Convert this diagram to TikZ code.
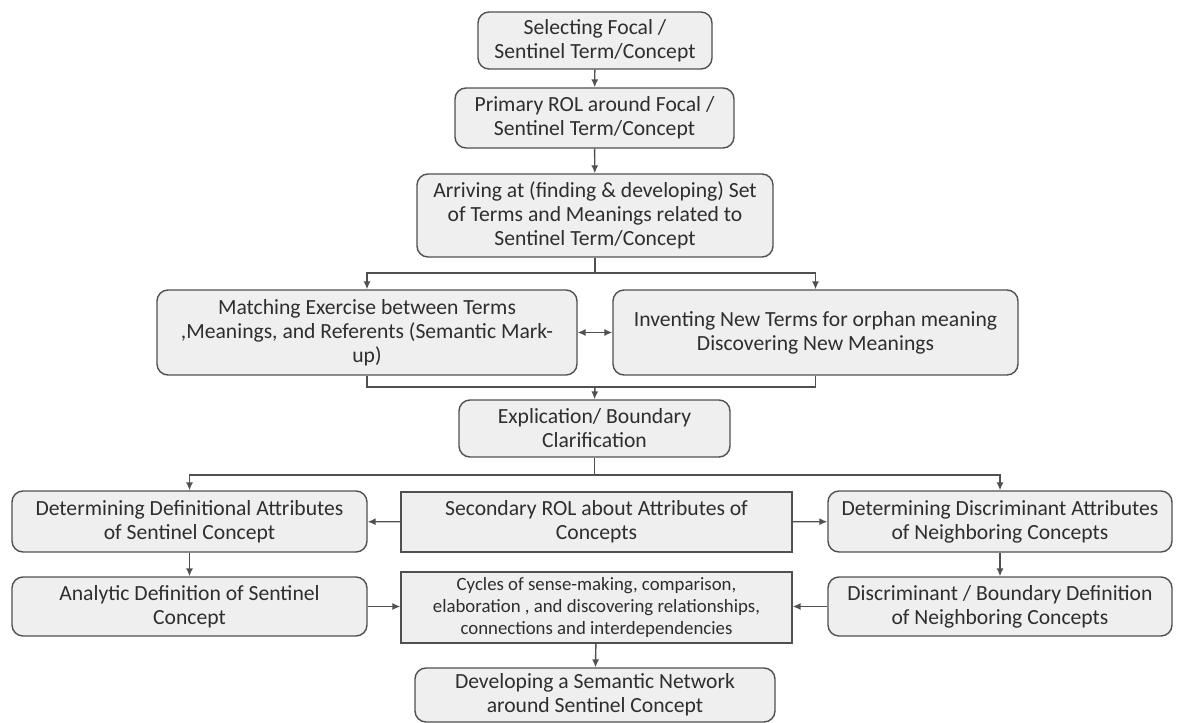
\documentclass[tikz,border=0pt]{standalone}
\usepackage{fontspec}
\setmainfont{Carlito}
\usetikzlibrary{arrows.meta}
\definecolor{boxfill}{HTML}{EFEFEF}
\definecolor{boxline}{HTML}{505050}
\definecolor{boxtext}{HTML}{2E2E2E}
\tikzset{
    roundbox/.style={
        draw=boxline,
        line width=0.8pt,
        fill=boxfill,
        rounded corners=0.22cm,
        align=center,
        inner sep=0,
        text=boxtext,
        font=\fontsize{12.3}{13.7}\selectfont,
    },
    squarebox/.style={
        roundbox,
        rounded corners=0,
    },
    link/.style={
        draw=boxline,
        line width=0.8pt,
        -{Latex[length=4.5pt,width=4pt]},
    },
}

\begin{document}
\begin{tikzpicture}
            \useasboundingbox (0,0) rectangle (23.54,-14.46);

            \node[roundbox, minimum width=4.68cm, minimum height=1.14cm] at (11.9, -0.81) (select) {Selecting Focal /\\Sentinel Term/Concept} ;
            \node[roundbox, minimum width=5.58cm, minimum height=1.2cm] at (11.89, -2.36) (primary) {Primary ROL around Focal /\\Sentinel Term/Concept} ;
            \node[roundbox, minimum width=7.12cm, minimum height=1.66cm] at (11.9, -4.31) (arriving) {Arriving at (finding \& developing) Set\\of Terms and Meanings related to\\Sentinel Term/Concept} ;
            \node[roundbox, minimum width=8.4cm, minimum height=1.7cm] at (7.34, -6.65) (matching) {Matching Exercise between Terms\\,Meanings, and Referents (Semantic Mark-\\up)} ;
            \node[roundbox, minimum width=8.1cm, minimum height=1.7cm] at (16.31, -6.65) (inventing) {Inventing New Terms for orphan meaning\\Discovering New Meanings} ;
            \node[roundbox, minimum width=5.42cm, minimum height=1.14cm] at (11.89, -8.57) (explication) {Explication/ Boundary\\Clarification} ;
            \node[roundbox, minimum width=7.1cm, minimum height=1.22cm] at (3.79, -10.43) (defattr) {Determining Definitional Attributes\\of Sentinel Concept} ;
            \node[squarebox, minimum width=7.82cm, minimum height=1.2cm] at (11.93, -10.44) (secondary) {Secondary ROL about Attributes of\\Concepts} ;
            \node[roundbox, minimum width=6.88cm, minimum height=1.22cm] at (20.0, -10.43) (discattr) {Determining Discriminant Attributes\\of Neighboring Concepts} ;
            \node[roundbox, minimum width=7.1cm, minimum height=1.18cm] at (3.79, -12.13) (analytic) {Analytic Definition of Sentinel\\Concept} ;
            \node[squarebox, minimum width=7.82cm, minimum height=1.42cm, font=\fontsize{10.7}{12.4}\selectfont] at (11.93, -12.15) (cycles) {Cycles of sense-making, comparison,\\elaboration , and discovering relationships,\\connections and interdependencies} ;
            \node[roundbox, minimum width=6.88cm, minimum height=1.18cm] at (20.0, -12.13) (discdef) {Discriminant / Boundary Definition\\of Neighboring Concepts} ;
            \node[roundbox, minimum width=7.2cm, minimum height=1.08cm] at (11.9, -13.9) (network) {Developing a Semantic Network\\around Sentinel Concept} ;

            \coordinate (split) at (11.9, -5.46) ;
            \coordinate (merge) at (11.9, -7.74) ;
            \coordinate (fork) at (11.89, -9.5) ;

            \draw[link] (select) -- (primary) ;
            \draw[link] (primary) -- (arriving) ;
            \draw[boxline, line width=0.8pt] (arriving.south) -- (split) ;
            \draw[link] (split) -| (matching.north) ;
            \draw[link] (split) -| (inventing.north) ;
            \draw[link, {Latex[length=4.5pt,width=4pt]}-{Latex[length=4.5pt,width=4pt]}] (matching.east) -- (inventing.west) ;
            \draw[boxline, line width=0.8pt] (matching.south) |- (merge) ;
            \draw[boxline, line width=0.8pt] (inventing.south) |- (merge) ;
            \draw[link] (merge) -- (explication.north) ;
            \draw[boxline, line width=0.8pt] (explication.south) -- (fork) ;
            \draw[link] (fork) -| (defattr.north) ;
            \draw[link] (fork) -| (discattr.north) ;
            \draw[link] (secondary) -- (defattr) ;
            \draw[link] (secondary) -- (discattr) ;
            \draw[link] (defattr) -- (analytic) ;
            \draw[link] (discattr) -- (discdef) ;
            \draw[link] (analytic.east) -- (cycles.west |- analytic.east) ;
            \draw[link] (discdef.west) -- (cycles.east |- discdef.west) ;
            \draw[link] (cycles) -- (network) ;
        \end{tikzpicture}
\end{document}
